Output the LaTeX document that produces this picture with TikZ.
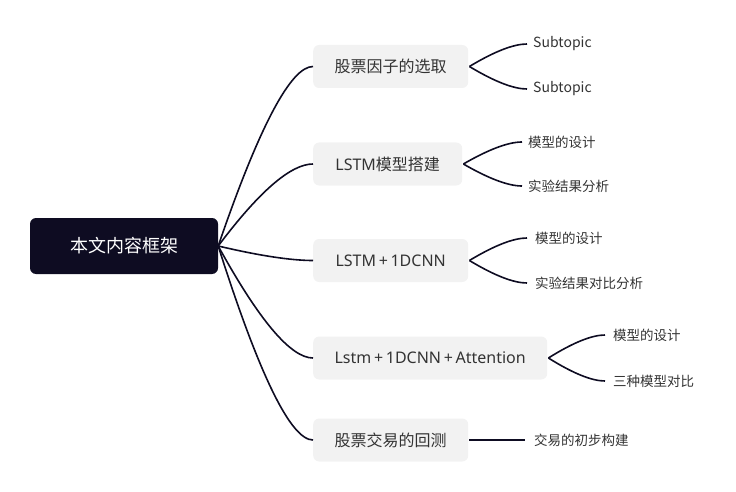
\documentclass[tikz,border=0pt]{standalone}
\usepackage{fontspec}
\setmainfont{Noto Sans CJK SC}
\newfontfamily\latinf{Noto Sans}
\usetikzlibrary{calc}
\definecolor{navy}{HTML}{0E0C22}
\definecolor{boxgray}{HTML}{F2F2F2}
\definecolor{txt}{HTML}{333333}
\begin{document}
\begin{tikzpicture}[x=1pt,y=-1pt,
 rootbox/.style={fill=navy,rounded corners=6pt,text=white,font=\fontsize{18}{20}\selectfont,minimum width=188pt,minimum height=56pt,inner sep=0pt},
 topic/.style={fill=boxgray,rounded corners=6pt,text=txt,font=\fontsize{16}{18}\selectfont,minimum height=43pt,inner sep=0pt,anchor=west},
 leaf/.style={anchor=west,text=txt,font=\fontsize{13.5}{15}\selectfont,inner xsep=6pt,inner ysep=0pt},
 link/.style={draw=navy,line width=1.6pt},
 curve/.style={to path={let \p1=(\tikztostart),\p2=(\tikztotarget) in .. controls ({\x1+0.433*(\x2-\x1)},{\y1+0.667*(\y2-\y1)}) and ({\x2-0.233*(\x2-\x1)},\y2) .. (\tikztotarget) \tikztonodes}}
]
\useasboundingbox (0,0) rectangle (736,492);

\node[rootbox] (root) at (124,246) {本文内容框架};

\node[topic,minimum width=155pt] (t1) at (313,66.5) {股票因子的选取};
\node[topic,minimum width=149pt] (t2) at (313,164) {{\latinf LSTM}模型搭建};
\node[topic,minimum width=155pt] (t3) at (313,260.5) {\latinf LSTM{\,}+{\,}1DCNN};
\node[topic,minimum width=234pt] (t4) at (313,358) {\latinf Lstm{\,}+{\,}1DCNN{\,}+{\,}Attention};
\node[topic,minimum width=155pt] (t5) at (313,440) {股票交易的回测};

\node[leaf,font=\fontsize{14}{16}\selectfont] (l11) at (527,44) {Subtopic};
\node[leaf,font=\fontsize{14}{16}\selectfont] (l12) at (527,89) {Subtopic};
\node[leaf] (l21) at (522,142) {模型的设计};
\node[leaf] (l22) at (522,186) {实验结果分析};
\node[leaf,inner xsep=8pt] (l31) at (527,238) {模型的设计};
\node[leaf,inner xsep=8pt] (l32) at (527,283) {实验结果对比分析};
\node[leaf,inner xsep=8pt] (l41) at (605,335) {模型的设计};
\node[leaf,inner xsep=8pt] (l42) at (605,381) {三种模型对比};
\node[leaf,inner xsep=9pt] (l51) at (525,440) {交易的初步构建};

\foreach \t in {t1,t2,t3,t4,t5}
  \draw[link] (root.east) to[curve] (\t.west);

\draw[link] ([xshift=1pt]t1.east) to[curve] (l11.west);
\draw[link] ([xshift=1pt]t1.east) to[curve] (l12.west);
\draw[link] ([xshift=1pt]t2.east) to[curve] (l21.west);
\draw[link] ([xshift=1pt]t2.east) to[curve] (l22.west);
\draw[link] ([xshift=1pt]t3.east) to[curve] (l31.west);
\draw[link] ([xshift=1pt]t3.east) to[curve] (l32.west);
\draw[link] ([xshift=1pt]t4.east) to[curve] (l41.west);
\draw[link] ([xshift=1pt]t4.east) to[curve] (l42.west);
\draw[link] ([xshift=1pt]t5.east) -- (l51.west);
\end{tikzpicture}
\end{document}
